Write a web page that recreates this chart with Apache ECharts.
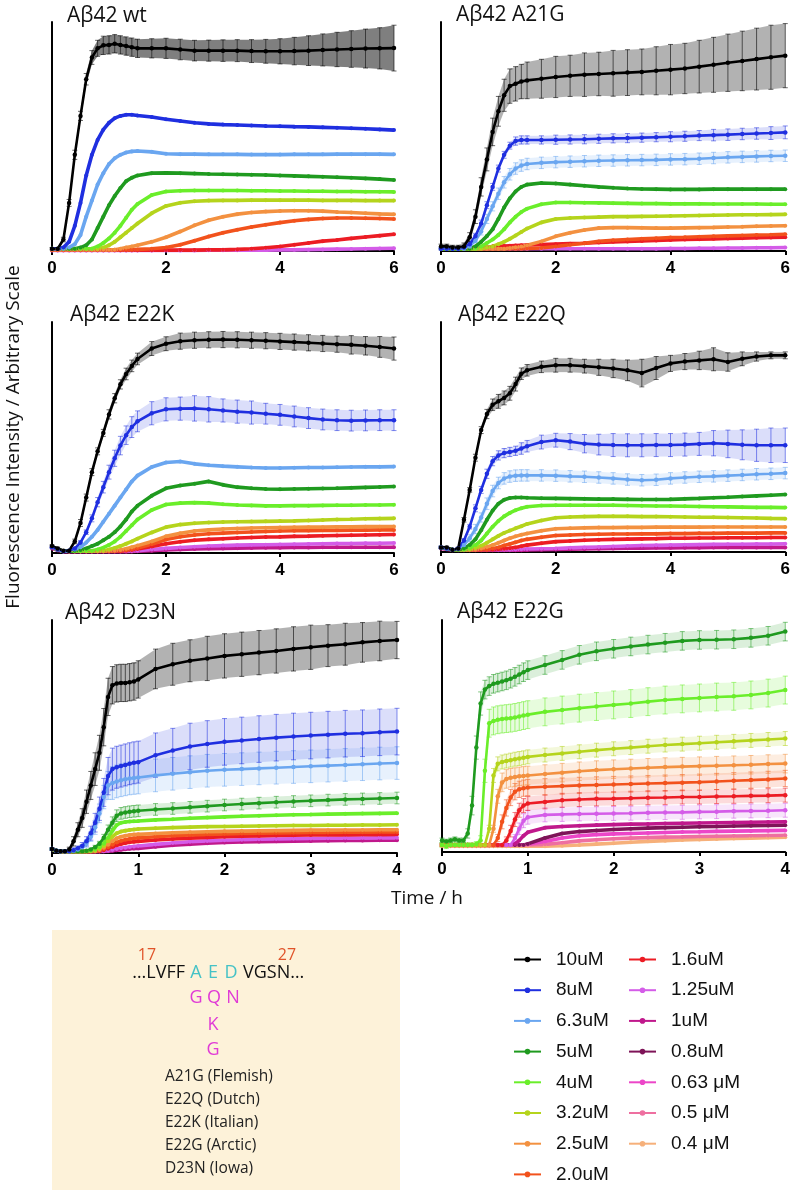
<!DOCTYPE html>
<html>
<head>
<meta charset="utf-8">
<script src="https://cdn.jsdelivr.net/npm/echarts@6/dist/echarts.min.js"></script>
<style>
  html, body { margin: 0; padding: 0; background: #fff; }
  #chart { width: 793px; height: 1190px; }
</style>
</head>
<body>
<div id="chart"></div>
<script>
// time points (hours)
const t6 = [0,0.1,0.2,0.3,0.4,0.5,0.6,0.7,0.8,0.9,1.0,1.1,1.2,1.3,1.4,1.5,1.75,2.0,2.25,2.5,2.75,3.0,3.25,3.5,3.75,4.0,4.25,4.5,4.75,5.0,5.25,5.5,5.75,6.0];
const t4 = [0,0.05,0.1,0.15,0.2,0.25,0.3,0.35,0.4,0.45,0.5,0.55,0.6,0.65,0.7,0.75,0.8,0.85,0.9,0.95,1.0,1.2,1.4,1.6,1.8,2.0,2.2,2.4,2.6,2.8,3.0,3.2,3.4,3.6,3.8,4.0];

const concLabels = ['10uM','8uM','6.3uM','5uM','4uM','3.2uM','2.5uM','2.0uM','1.6uM','1.25uM','1uM','0.8uM','0.63 μM','0.5 μM','0.4 μM'];
const concColors = ['#000000','#1f2fe0','#6aa6f0','#1f9a1f','#6aee2a','#b5d41c','#f39140','#f2521c','#ec1c24','#d45ce8','#c0188c','#7e1458','#ec46c8','#ee6fa0','#f6b07a'];

// Abeta42 wt
const wt_10 = [1,1,5,21,42,59,75,84.5,88.5,89.8,90,90.5,90,89.5,89,88.5,88.5,88.5,88,87.5,87.5,87.5,87.5,87.3,87.2,87.2,87.3,87.5,87.8,88,88.2,88.4,88.5,88.6];
const wt_10_err = [0.5,0.5,1,1.5,2,2,2.5,3,3.5,4,4,4,4,4,4,4,4.2,4.4,4.5,4.5,4.6,4.7,4.8,5,5.2,5.5,6,6.5,7,7.5,8,8.5,9,10];
const wt_8 = [1,1,1.5,4,11,21,33,42,48.5,53,56,58,59,59.5,59.5,59.2,58.5,57.5,56.8,56,55.5,55.2,55,54.8,54.6,54.5,54.3,54.2,54,53.8,53.6,53.4,53.1,52.8];
const wt_63 = [1,1,1,1.5,3,7,15,22,29,34,38,40.5,42,43,43.5,43.7,43.3,42.5,42.3,42.3,42.2,42.2,42.2,42.1,42.1,42.1,42.2,42.2,42.2,42.3,42.3,42.3,42.3,42.2];
const wt_5 = [1,1,1,1,1,1.5,2.5,5,10,15,20,24,27.5,30.5,32,33,34,34.1,34,33.8,33.6,33.5,33.4,33.3,33.2,33,32.8,32.6,32.4,32.2,32,31.7,31.4,31];
const wt_4 = [1,1,1,1,1,1,1,1,2,3.5,5.5,8,11,14.5,18,20.5,24.5,26,26.3,26.4,26.4,26.4,26.4,26.3,26.3,26.2,26.2,26.1,26.1,26,26,25.9,25.9,25.8];
const wt_32 = [1,1,1,1,1,1,1,1,1,1.5,2.5,4,6,8,10,12,16.5,19.7,21.1,21.7,22,22.1,22.1,22.2,22.2,22.2,22.2,22.2,22.1,22.1,22.1,22,22,22];
const wt_25 = [0.5,0.5,0.5,0.5,0.5,0.5,0.5,0.5,0.5,0.5,0.5,0.5,1,1.5,2,2.5,4,6,8.5,11.2,13.4,15,16.1,16.8,17.2,17.5,17.6,17.6,17.4,17,16.8,16.5,16.2,16];
const wt_20 = [0.5,0.5,0.5,0.5,0.5,0.5,0.5,0.5,0.5,0.5,0.5,0.5,0.5,0.5,0.6,0.7,1,1.5,2.7,4.5,6.3,8,9.3,10.5,11.5,12.4,13.2,13.8,14.2,14.4,14.4,14.3,14.2,14];
const wt_16 = [0.3,0.3,0.3,0.3,0.3,0.3,0.3,0.3,0.3,0.3,0.3,0.3,0.3,0.3,0.3,0.3,0.3,0.4,0.4,0.4,0.5,0.5,0.7,1,1.4,2,2.7,3.5,4.3,4.8,5.5,6.1,6.7,7.3];
const wt_125 = [0.2,0.2,0.2,0.2,0.2,0.2,0.2,0.2,0.2,0.2,0.2,0.2,0.2,0.2,0.2,0.2,0.2,0.2,0.2,0.2,0.3,0.3,0.3,0.4,0.4,0.5,0.5,0.6,0.7,0.8,0.9,1,1.1,1.2];

// Abeta42 A21G
const a_10 = [2,2,1.5,1.5,2,6,15,28,40,52,61,68,72,73,74,74.5,75.2,76,76.5,77,77.3,77.6,77.9,78.2,78.7,79.2,79.7,80.5,81.3,82.2,83,83.8,84.6,85.3];
const a_10_err = [1,1,1,1,1.5,2,3,4,5,6,6.5,7,7.5,7.5,7.5,8,8.5,9,9,9.5,9.5,10,10,10,10.5,11,11,11.5,12,12.5,13,13.5,14,14];
const a_8 = [1,1,1,1,1.5,3,6.5,12,20,28,36,42,46,48,48.5,48.5,48.5,48.6,48.7,48.8,49,49.2,49.3,49.5,49.7,49.9,50.1,50.4,50.6,50.8,51.1,51.3,51.5,51.8];
const a_8_err = [0.5,0.5,0.5,0.5,0.8,1,1.2,1.5,1.5,1.5,1.5,1.5,1.5,1.8,1.8,1.8,1.8,2,2,2,2,2,2,2,2,2.2,2.2,2.2,2.5,2.5,2.5,2.5,2.8,2.8];
const a_63 = [1,1,1,1,1,2,4.5,8.5,14,19.5,25,30,33.5,36,37.3,38,38.5,38.8,39,39.2,39.4,39.5,39.6,39.7,39.8,40,40.1,40.3,40.6,40.9,41.1,41.3,41.5,41.6];
const a_63_err = [0.5,0.5,0.5,0.5,0.5,0.8,1,1.5,2,2,2.5,2.5,2.5,2.5,2.5,2.5,2.5,2.5,2.5,2.5,2.5,2.5,2.5,2.5,2.5,2.5,2.5,2.5,2.5,2.5,2.5,2.5,2.5,2.5];
const a_5 = [1,1,1,1,1,1,2,4,6.5,9.5,14,19,23,26,28,29,29.7,29.5,29,28.5,28,27.6,27.3,27.1,27,26.9,26.9,26.9,27,27,27,27,27,27];
const a_4 = [1,1,1,1,1,1,1,2,3.5,5,7,9.5,12.5,15,17,18.5,20.4,21.2,21.2,21.1,21,20.9,20.8,20.7,20.7,20.6,20.6,20.6,20.5,20.5,20.5,20.5,20.4,20.4];
const a_32 = [1,1,1,1,1,1,1,1,1.5,2,3,4,5.3,6.8,8.3,9.8,12.5,14,14.4,14.6,14.8,15,15,15.1,15.2,15.3,15.4,15.5,15.6,15.7,15.8,15.8,15.9,16];
const a_25 = [1,1,1,1,1,1,1,1,1,1,1,1,1.3,1.6,2,2.5,4.2,6.4,8,9.2,10,10.2,10.2,10.1,10,10,10.1,10.2,10.3,10.5,10.6,10.8,10.9,11];
const a_20 = [1,1,1,1,1,1,1,1,1,1,1,1,1,1,1,1.1,1.3,2,2.7,3.4,4.2,4.7,5,5.3,5.6,5.9,6,6.2,6.4,6.6,6.8,7,7.1,7.3];
const a_16 = [1,1,1,1,1,1,1.5,1.5,1.5,2,2,2.2,2.3,2.4,2.5,2.6,2.8,3,3.2,3.4,3.7,4,4.2,4.4,4.6,4.8,5,5.1,5.3,5.5,5.6,5.8,5.9,6];
const a_125 = [1,1,1,1,1,1,1,1,1,1,1,1,1,1,1,1,1,1,1,1,1,1,1,1,1,1.1,1.1,1.2,1.2,1.3,1.3,1.4,1.4,1.5];

// Abeta42 E22K
const k_10 = [3,2,1,1,5,13,24,35,44,52,60,67,73,77.5,81,84,88.5,90.6,91.7,92.1,92.3,92.4,92.3,92.1,91.9,91.6,91.3,91,90.7,90.4,90.1,89.7,89.2,88.5];
const k_10_err = [0.5,0.5,0.5,0.5,1,1.5,1.5,1.5,1.5,1.5,2,2,2,2.5,2.5,2.5,3,3,3.5,3.5,3.5,3.5,3.5,3.5,3.5,3.5,3.5,3.5,3.5,3.5,4,4,4.5,5];
const k_8 = [2.5,1.5,0.8,1,2,4.5,9,15,22,28.5,35,41,46.5,51,54.5,57,60.5,62.2,62.5,62.6,62.2,61.7,61.2,60.8,60.3,59.8,59.1,58.4,57.8,57.5,57.3,57.4,57.5,57.5];
const k_8_err = [0.5,0.5,0.5,0.5,0.5,0.8,1,1.5,2,2.5,3,3.5,4,4,4.5,4.5,5,5,5,5.5,5.5,5,5,5,4.5,4.5,4.5,4.5,4.5,4.5,4.5,4.5,4.5,4.5];
const k_63 = [2.5,1.5,0.8,1,1.5,2.5,4.5,7,10,13.5,17,20.5,24,27.5,31,33.5,37.2,39.2,39.6,38.6,38,37.6,37.3,37,36.8,36.8,36.9,37,37,37.1,37.2,37.3,37.3,37.4];
const k_5 = [2.5,1.5,0.8,0.8,1,1.3,2,3,4,5.5,7,9,11.5,14.5,18,20.5,24.8,28,29.2,30,31,29.5,28.5,28,27.7,27.6,27.7,27.8,27.9,28,28.2,28.4,28.6,28.8];
const k_4 = [2.5,1.5,0.8,0.8,0.8,0.8,1,1,1.5,2.3,3.5,5,7,9.5,12,14.5,18.6,21,21.6,21.8,21.6,21.1,20.8,20.6,20.4,20.4,20.5,20.5,20.6,20.7,20.7,20.8,20.8,20.9];
const k_32 = [2.5,1.5,0.8,0.8,0.8,0.8,0.8,0.8,1,1,1.5,2.2,3,4,5,6.2,8.9,11.2,12.3,12.9,13.2,13.4,13.5,13.6,13.7,13.8,13.9,14.1,14.3,14.5,14.6,14.8,14.9,15];
const k_25 = [2.5,1.5,0.8,0.8,0.8,0.8,0.8,0.8,0.8,0.8,1,1,1.3,1.8,2.5,3.2,5,7.2,8.5,9.5,10,10.4,10.6,10.8,10.9,11,11.1,11.2,11.2,11.3,11.3,11.4,11.4,11.5];
const k_20 = [2.5,1.5,0.8,0.8,0.8,0.8,0.8,0.8,0.8,0.8,0.8,1,1,1.2,1.6,2.2,3.8,5.8,7,7.8,8.3,8.6,8.9,9.1,9.3,9.5,9.6,9.7,9.8,9.8,9.9,9.9,10,10];
const k_16 = [2.5,1.5,0.8,0.8,0.8,0.8,0.8,0.8,0.8,0.8,0.8,0.8,0.8,1,1.3,1.7,2.8,4,4.9,5.5,5.9,6.2,6.5,6.7,6.9,7,7.2,7.3,7.5,7.6,7.7,7.8,7.9,8];
const k_125 = [2.5,1.5,0.8,0.8,0.8,0.8,0.8,0.8,0.8,0.8,0.8,0.8,0.8,0.8,0.9,1,1.5,2,2.4,2.7,3,3.2,3.4,3.5,3.6,3.7,3.8,3.9,4,4.1,4.1,4.2,4.2,4.3];
const k_1 = [2,1.2,0.6,0.6,0.6,0.6,0.6,0.6,0.6,0.6,0.6,0.6,0.6,0.6,0.7,0.8,1,1.3,1.5,1.7,1.9,2,2.1,2.2,2.3,2.3,2.4,2.4,2.5,2.5,2.5,2.5,2.5,2.5];

// Abeta42 E22Q
const q_10 = [2,2,1,1.5,14,27,41,53,60,64,65.5,67,69,73,77.5,79,80.5,81.2,81.2,80.8,80.3,79.8,79,77.8,80,82,82.8,83.3,83.8,82.6,84,85,85.5,85.5];
const q_10_err = [0.5,0.5,0.5,0.5,1,1,1.5,1.5,2,2.5,3,3,3,3,2.5,2.5,2.5,3,3,3,3.5,4,4.5,6,5,3.5,3.5,4,5,4,3,2,1.5,1.5];
const q_8 = [2,1.5,1,1.5,5,11,19,27,34,39.5,42,43,43.5,44,45,46,47.8,48.6,48,47.1,46.7,46.5,46.4,46.4,46.5,46.5,46.7,47,47.3,47,46.6,46.4,46.4,46.4];
const q_8_err = [0.5,0.5,0.5,0.5,0.8,1,1.5,1.5,2,2,2,2,2,2,2.5,2.5,3,3,3.5,4,4.5,5,5,5,5,5,5,5,5.5,6,6.5,7,7.5,7.5];
const q_63 = [2,1.5,1,1.3,3,6,10,15,21,26.5,30,32,32.8,33.2,33.3,33.3,33.3,33.2,32.9,32.7,32.4,32,31.5,31.2,31.4,32,32.4,32.7,32.9,33.2,33.5,33.8,34,34.3];
const q_63_err = [0.5,0.5,0.5,0.5,1,1.5,2,2,2.5,2.5,2.5,2.5,2.5,2.5,2.5,2.5,2.5,2.5,2.5,2.5,2.5,2.5,2.5,2.5,2.5,2.5,2.5,2.5,2.5,2.5,2.5,2.5,2.5,2.5];
const q_5 = [2,1.5,1,1,1.5,3,5.5,9.5,14,18,21,22.7,23.5,23.7,23.7,23.6,23.4,23.3,23.2,23.1,23,23,22.9,22.8,22.8,22.9,23.1,23.3,23.6,23.8,24.1,24.4,24.7,25];
const q_4 = [2,1.5,1,1,1,1.7,3,5,8,11,13.5,15.5,17,18.2,19,19.7,20.2,20.3,20.3,20.3,20.3,20.3,20.2,20.1,20,20,19.9,19.8,19.7,19.6,19.5,19.4,19.4,19.3];
const q_32 = [2,1.5,1,1,1,1,1.7,2.7,4,5.5,7,8.3,9.3,10.3,11.2,12.2,13.7,14.9,15.2,15.4,15.5,15.5,15.5,15.4,15.4,15.3,15.2,15.1,15.1,15,14.9,14.8,14.6,14.5];
const q_25 = [2,1.5,1,1,1,1,1,1.5,2.2,3,4,5,6,6.8,7.5,8,9.2,10.1,10.3,10.5,10.6,10.6,10.7,10.7,10.8,10.8,10.8,10.8,10.9,10.9,10.9,10.9,10.9,10.9];
const q_20 = [2,1.5,1,1,1,1,1,1,1,1.5,2,2.8,3.5,4.2,5,5.5,6.4,7.2,7.4,7.6,7.7,7.8,7.8,7.9,7.9,8,8,8.1,8.1,8.2,8.2,8.2,8.3,8.3];
const q_16 = [2,1.5,1,1,1,1,1,1,1,1,1.2,1.4,1.6,2,2.5,3,3.8,4.5,4.8,5.1,5.3,5.5,5.6,5.7,5.8,6,6,6.1,6.1,6.2,6.2,6.2,6.3,6.3];
const q_125 = [2,1.5,1,1,1,1,1,1,1,1,1,1,1,1.1,1.2,1.3,1.4,1.5,1.8,2,2.2,2.4,2.6,2.8,2.9,3,3.1,3.2,3.3,3.4,3.4,3.5,3.5,3.6];
const q_1 = [1.5,1.2,0.8,0.8,0.8,0.8,0.8,0.8,0.8,0.8,0.8,0.8,0.8,0.8,0.8,0.9,1,1.1,1.2,1.3,1.4,1.5,1.6,1.7,1.8,1.8,1.9,1.9,2,2,2,2,2,2];

// Abeta42 D23N
const d_10 = [1.7,1,0.7,0.8,1.5,5,10,15,22,29,36,43,54,67,72,72.8,73,73,73.3,73.6,74.5,79,81,82.5,83.5,84.6,85.3,86,86.7,87.6,88.3,89,89.6,90.4,91,91.4];
const d_10_err = [0.5,0.5,0.5,0.5,1,2,3,4,5,6,7,7.5,8,8,8,8,8,8,8,8,8,8.5,9,9,9.5,9.5,9.5,9.5,9.5,9.5,9.5,9,9,8.5,8.5,8];
const d_8 = [1.7,1,0.7,0.7,0.8,1.2,2,3,5,8.5,13,19,26,33,36,36.8,37.3,37.8,38.3,38.7,39,42,44,45.7,46.8,47.7,48.3,48.9,49.5,50,50.4,50.8,51.2,51.4,51.8,52.1];
const d_8_err = [0.5,0.5,0.5,0.5,0.5,1,1,1.5,2,3,4,5,6,8,9,9,9,9,9,9,9,9.5,9.5,10,10,10,10,10,10,10,10,10,10,10,10,10];
const d_63 = [1.7,1,0.7,0.7,0.8,1,1.5,2.5,4,7,11,17,24,29,30,30.7,31.2,31.6,32,32.2,32.4,33.3,34,34.7,35.3,35.7,36,36.3,36.6,36.9,37.2,37.5,37.8,38.1,38.4,38.6];
const d_63_err = [0.5,0.5,0.5,0.5,0.5,0.5,1,1,1.5,2,3,4,5,6,7,7,7,7,7,7,7,7,7,7,7,7,7,7,7,7,7,7,7,7,7,7];
const d_5 = [1.7,1,0.7,0.7,0.7,0.7,0.8,0.8,1,1.5,2.5,4,6.5,10,13,16,17,17.4,17.7,17.9,18.1,18.7,19.1,19.6,20.1,20.6,21,21.4,21.8,22.1,22.4,22.7,23,23.2,23.4,23.6];
const d_5_err = [0.3,0.3,0.3,0.3,0.3,0.3,0.3,0.3,0.5,0.5,0.8,1,1.5,2,2.5,2.5,2.5,2.5,2.5,2.5,2.5,2.5,2.5,2.5,2.5,2.5,2.5,2.5,2.5,2.5,2.5,2.5,2.5,2.5,2.5,2.5];
const d_4 = [1.7,1,0.7,0.7,0.7,0.7,0.7,0.7,0.8,1,1.5,2.5,4,6.5,9.5,12,13,13.3,13.5,13.6,13.7,14.2,14.5,14.9,15.2,15.5,15.8,16,16.2,16.4,16.5,16.7,16.8,16.9,17,17.1];
const d_32 = [1.7,1,0.7,0.7,0.7,0.7,0.7,0.7,0.7,0.8,1,1.8,3,5,7,8.5,9.2,9.6,9.9,10.1,10.3,10.6,10.9,11.1,11.3,11.4,11.5,11.6,11.7,11.8,11.8,11.9,11.9,12,12,12.1];
const d_25 = [1.7,1,0.7,0.7,0.7,0.7,0.7,0.7,0.7,0.7,0.8,1.3,2.2,3.5,5,6.3,7,7.4,7.7,7.9,8,8.4,8.7,8.9,9.1,9.3,9.4,9.5,9.6,9.7,9.8,9.8,9.9,9.9,10,10];
const d_20 = [1.7,1,0.7,0.7,0.7,0.7,0.7,0.7,0.7,0.7,0.7,1,1.6,2.5,3.5,4.5,5.2,5.7,6,6.3,6.5,7,7.4,7.7,8,8.2,8.4,8.5,8.6,8.7,8.8,8.8,8.9,8.9,9,9];
const d_16 = [1.7,1,0.7,0.7,0.7,0.7,0.7,0.7,0.7,0.7,0.7,0.8,1.2,1.8,2.6,3.3,3.9,4.3,4.6,4.8,5,5.6,6,6.4,6.7,7,7.2,7.3,7.5,7.6,7.7,7.8,7.8,7.9,7.9,8];
const d_125 = [1.7,1,0.7,0.7,0.7,0.7,0.7,0.7,0.7,0.7,0.7,0.7,0.8,1,1.3,1.7,2,2.3,2.6,2.8,3,3.7,4.3,4.8,5.2,5.5,5.7,5.9,6,6.1,6.2,6.3,6.4,6.4,6.5,6.5];
const d_1 = [1.7,1,0.7,0.7,0.7,0.7,0.7,0.7,0.7,0.7,0.7,0.7,0.7,0.8,1,1.2,1.4,1.6,1.8,1.9,2,2.7,3.3,3.8,4.2,4.5,4.7,4.9,5,5.1,5.2,5.3,5.4,5.4,5.5,5.5];

// Abeta42 E22G
const g_5 = [5,4.5,5,5.5,5,5,8,20,45,64,70,71.5,72.5,73,73.5,74,74.7,75.5,76.5,77.5,78.4,80.6,82.8,85,86.5,87.6,88.6,89.4,90.2,91,91.4,91.5,91.7,92.3,93.2,95];
const g_5_err = [1,1,1,1,1,1,2,4,5,5,4,4,4,4,4,4,4,4,4,4,4,4,4,4,4,4,4,4,4,4,4,4,4,4,4,4];
const g_4 = [3,2.5,3,3,3,3,3,3,3.5,5,35,55.5,56.5,57,57.3,57.5,57.7,58,58.4,58.8,59.2,60.4,61.2,62,62.7,63.4,64,64.8,65.5,66,66.4,66.8,67.1,67.7,68.5,69.8];
const g_4_err = [1,1,1,1,1,1,1,1,1,2,5,6,6,6,6,6,6,6,6,6,6,6,6,6,6,6,6,6,6,6,6,6,6,6,6,6];
const g_32 = [3,3,3,3,3,3,3,3,3,3,3,10,33,38,38.8,39.2,39.6,40,40.3,40.6,41,41.8,42.5,43.2,43.9,44.5,45,45.6,46.1,46.5,46.9,47.3,47.7,48.1,48.5,48.9];
const g_32_err = [0.5,0.5,0.5,0.5,0.5,0.5,0.5,0.5,0.5,0.5,0.5,1.5,3,3,3,3,3,3,3,3,3,3,3,3,3,3,3,3,3,3,3,3,3,3,3,3];
const g_25 = [3,3,3,3,3,3,3,3,3,3,3,3,10,24,30,31.5,32,32.3,32.6,32.8,33,33.6,34.2,34.8,35.3,35.7,36,36.3,36.6,36.8,37,37.2,37.4,37.6,37.9,38.1];
const g_25_err = [0.5,0.5,0.5,0.5,0.5,0.5,0.5,0.5,0.5,0.5,0.5,0.5,1.5,3,4,4,4,4,4,4,4,4,4,4,4,4,4,4,4,4,4,4,4,4,4,4];
const g_20 = [3,3,3,3,3,3,3,3,3,3,3,3,3,6,13,19,23.5,26,27,27.5,27.8,28.1,28.4,28.7,28.9,29.1,29.3,29.5,29.7,29.9,30.1,30.4,30.7,31,31.3,31.7];
const g_20_err = [0.5,0.5,0.5,0.5,0.5,0.5,0.5,0.5,0.5,0.5,0.5,0.5,0.5,1.5,3,3.5,3.5,3.5,3.5,3.5,3.5,3.5,3.5,3.5,3.5,3.5,3.5,3.5,3.5,3.5,3.5,3.5,3.5,3.5,3.5,3.5];
const g_16 = [3,3,3,3,3,3,3,3,3,3,3,3,3,3,3,5,9,14,18,20,20.9,21.6,22.3,22.6,22.9,23,23.2,23.4,23.5,23.7,23.7,23.9,24,24.2,24.3,24.5];
const g_16_err = [0.5,0.5,0.5,0.5,0.5,0.5,0.5,0.5,0.5,0.5,0.5,0.5,0.5,0.5,0.5,1.5,2.5,3,3,3,3,3,3,3,3,3,3,3,3,3,3,3,3,3,3,3];
const g_125 = [3,3,3,3,3,3,3,3,3,3,3,3,3,3,3,3,3,6,10,13.5,15,16,16.2,16.4,16.5,16.6,16.7,16.9,17,17.1,17.3,17.4,17.6,17.7,17.8,18];
const g_125_err = [0.5,0.5,0.5,0.5,0.5,0.5,0.5,0.5,0.5,0.5,0.5,0.5,0.5,0.5,0.5,0.5,0.5,1.5,2.5,3,3,3,3,3,3,3,3,3,3,3,3,3,3,3,3,3];
const g_1 = [3,3,3,3,3,3,3,3,3,3,3,3,3,3,3,3,3,3.5,5,7,8.5,10.5,11,11.3,11.6,11.8,12,12.1,12.3,12.4,12.5,12.6,12.7,12.8,12.9,13];
const g_08 = [3,3,3,3,3,3,3,3,3,3,3,3,3,3,3,3,3,3,3,3,3.5,6,8,8.8,9.3,9.7,10,10.3,10.5,10.7,10.9,11,11.2,11.3,11.4,11.5];
const g_063 = [3,3,3,3,3,3,3,3,3,3,3,3,3,3,3,3,3,3,3,3,3.3,4.5,6,7,7.5,7.8,8,8.2,8.4,8.6,8.7,8.9,9,9.1,9.2,9.3];
const g_05 = [3,3,3,3,3,3,3,3,3,3,3,3,3,3,3,3,3,3,3,3,3,3.3,4,4.8,5.3,5.7,6,6.2,6.4,6.5,6.7,6.8,6.9,7,7.1,7.2];
const g_04 = [2.5,2.5,2.5,2.5,2.5,2.5,2.5,2.5,2.5,2.5,2.5,2.5,2.5,2.5,2.5,2.5,2.5,2.5,2.5,2.5,2.5,2.5,2.7,3,3.4,3.8,4.2,4.6,4.9,5.2,5.4,5.6,5.8,6,6.2,6.4];

// panels: [concentration index, values, error]
const panels = [
  { title: 'Aβ42 wt', t: t6, max: 6, step: 2, lines: [[0, wt_10, wt_10_err], [1, wt_8], [2, wt_63], [3, wt_5], [4, wt_4], [5, wt_32], [6, wt_25], [7, wt_20], [8, wt_16], [9, wt_125]] },
  { title: 'Aβ42 A21G', t: t6, max: 6, step: 2, lines: [[0, a_10, a_10_err], [1, a_8, a_8_err], [2, a_63, a_63_err], [3, a_5], [4, a_4], [5, a_32], [6, a_25], [7, a_20], [8, a_16], [9, a_125]] },
  { title: 'Aβ42 E22K', t: t6, max: 6, step: 2, lines: [[0, k_10, k_10_err], [1, k_8, k_8_err], [2, k_63], [3, k_5], [4, k_4], [5, k_32], [6, k_25], [7, k_20], [8, k_16], [9, k_125], [10, k_1]] },
  { title: 'Aβ42 E22Q', t: t6, max: 6, step: 2, lines: [[0, q_10, q_10_err], [1, q_8, q_8_err], [2, q_63, q_63_err], [3, q_5], [4, q_4], [5, q_32], [6, q_25], [7, q_20], [8, q_16], [9, q_125], [10, q_1]] },
  { title: 'Aβ42 D23N', t: t4, max: 4, step: 1, lines: [[0, d_10, d_10_err], [1, d_8, d_8_err], [2, d_63, d_63_err], [3, d_5, d_5_err], [4, d_4], [5, d_32], [6, d_25], [7, d_20], [8, d_16], [9, d_125], [10, d_1]] },
  { title: 'Aβ42 E22G', t: t4, max: 4, step: 1, lines: [[3, g_5, g_5_err], [4, g_4, g_4_err], [5, g_32, g_32_err], [6, g_25, g_25_err], [7, g_20, g_20_err], [8, g_16, g_16_err], [9, g_125, g_125_err], [10, g_1], [11, g_08], [12, g_063], [13, g_05], [14, g_04]] }
];

const grids = [
  { left: 52, top: 22, width: 342, height: 229 },
  { left: 441, top: 22, width: 345, height: 229 },
  { left: 52, top: 322, width: 342, height: 231 },
  { left: 441, top: 322, width: 345, height: 230 },
  { left: 52, top: 620, width: 345, height: 233 },
  { left: 442, top: 620, width: 344, height: 232 }
];
const titlePos = [[67, 16], [456, 15], [70, 315], [458, 315], [65, 613], [457, 612]];

const chart = echarts.init(document.getElementById('chart'), null, { renderer: 'canvas' });

// error bars + shaded band between neighbouring points
function errorBars(gi, t, vals, err, color) {
  const isBlack = color === '#000000';
  const band = echarts.color.modifyAlpha(color, isBlack ? (gi === 0 ? 0.5 : 0.3) : 0.16);
  const bar = echarts.color.modifyAlpha(color, isBlack ? 0.6 : 0.55);
  const data = t.map((x, i) => {
    const j = i ? i - 1 : 0;
    return [x, vals[i] - err[i], vals[i] + err[i], t[j], vals[j] - err[j], vals[j] + err[j]];
  });
  return {
    type: 'custom', xAxisIndex: gi, yAxisIndex: gi, silent: true, z: 2,
    data,
    renderItem: (params, api) => {
      const lo = api.coord([api.value(0), api.value(1)]);
      const hi = api.coord([api.value(0), api.value(2)]);
      const plo = api.coord([api.value(3), api.value(4)]);
      const phi = api.coord([api.value(3), api.value(5)]);
      const cap = 2.5;
      return {
        type: 'group',
        children: [
          { type: 'polygon', shape: { points: [plo, phi, hi, lo] }, style: { fill: band } },
          { type: 'line', shape: { x1: lo[0], y1: lo[1], x2: hi[0], y2: hi[1] }, style: { stroke: bar, lineWidth: 1 } },
          { type: 'line', shape: { x1: hi[0] - cap, y1: hi[1], x2: hi[0] + cap, y2: hi[1] }, style: { stroke: bar, lineWidth: 1 } },
          { type: 'line', shape: { x1: lo[0] - cap, y1: lo[1], x2: lo[0] + cap, y2: lo[1] }, style: { stroke: bar, lineWidth: 1 } }
        ]
      };
    }
  };
}

const series = [];
panels.forEach((p, gi) => {
  p.lines.slice().reverse().forEach(([ci, vals, err]) => {
    const color = concColors[ci];
    if (err) series.push(errorBars(gi, p.t, vals, err, color));
    series.push({
      type: 'line',
      name: concLabels[ci],
      xAxisIndex: gi,
      yAxisIndex: gi,
      data: p.t.map((x, i) => [x, vals[i]]),
      symbol: 'circle',
      symbolSize: err ? 4.5 : 4,
      showAllSymbol: true,
      lineStyle: { color, width: err ? 2.6 : 3.6 },
      itemStyle: { color },
      emphasis: { disabled: true },
      z: 3
    });
  });
});

const font = 'Open Sans';
function label(x, y, text, size, fill, align, extra) {
  return Object.assign({
    type: 'text', x, y, silent: true,
    style: { text, font: size + 'px "' + font + '"', fill, textAlign: align || 'left', textVerticalAlign: 'middle' }
  }, extra || {});
}

const graphics = [
  { type: 'rect', shape: { x: 52, y: 930, width: 348, height: 260 }, style: { fill: '#fdf2d9' }, silent: true, z: -10 }
];
panels.forEach((p, i) => graphics.push(label(titlePos[i][0], titlePos[i][1], p.title, 21, '#111')));
graphics.push(label(14, 437, 'Fluorescence Intensity / Arbitrary Scale', 19, '#111', 'center', { rotation: Math.PI / 2 }));
graphics.push(label(427, 899, 'Time / h', 19, '#111', 'center'));
// sequence annotation
graphics.push(label(147, 955, '17', 16, '#e0542a', 'center'));
graphics.push(label(287, 955, '27', 16, '#e0542a', 'center'));
graphics.push(label(185, 973, '…LVFF', 18, '#111', 'right'));
graphics.push(label(196, 973, 'A', 18, '#45c2c6', 'center'));
graphics.push(label(213, 973, 'E', 18, '#45c2c6', 'center'));
graphics.push(label(231, 973, 'D', 18, '#45c2c6', 'center'));
graphics.push(label(243, 973, 'VGSN…', 18, '#111', 'left'));
graphics.push(label(196, 998, 'G', 18, '#e03ad6', 'center'));
graphics.push(label(214, 998, 'Q', 18, '#e03ad6', 'center'));
graphics.push(label(233, 998, 'N', 18, '#e03ad6', 'center'));
graphics.push(label(213, 1025, 'K', 18, '#e03ad6', 'center'));
graphics.push(label(213, 1050, 'G', 18, '#e03ad6', 'center'));
['A21G (Flemish)', 'E22Q (Dutch)', 'E22K (Italian)', 'E22G (Arctic)', 'D23N (Iowa)'].forEach((s, i) => {
  graphics.push(label(165, 1077 + i * 22.8, s, 15.5, '#222', 'left'));
});

const legendText = { fontSize: 19, fontFamily: 'Liberation Sans', color: '#111', padding: [0, 0, 0, 10] };

const option = {
  animation: false,
  backgroundColor: '#fff',
  grid: grids.map(g => Object.assign({ containLabel: false }, g)),
  xAxis: panels.map((p, i) => ({
    gridIndex: i, type: 'value', min: 0, max: p.max, interval: p.step,
    axisLine: { show: true, onZero: false, lineStyle: { color: '#000', width: 2 } },
    axisTick: { show: true, length: 4, lineStyle: { color: '#000', width: 2 } },
    axisLabel: { color: '#000', fontSize: 17, fontWeight: 'bold', fontFamily: 'Liberation Sans', margin: 9 },
    splitLine: { show: false }
  })),
  yAxis: panels.map((p, i) => ({
    gridIndex: i, type: 'value', min: 0, max: 100,
    axisLine: { show: true, lineStyle: { color: '#000', width: 2 } },
    axisTick: { show: false }, axisLabel: { show: false }, splitLine: { show: false }
  })),
  legend: [
    { orient: 'vertical', left: 513, top: 950, padding: 0, itemWidth: 27, itemHeight: 7, itemGap: 11.7,
      selectedMode: false, data: concLabels.slice(0, 8), textStyle: legendText },
    { orient: 'vertical', left: 628, top: 950, padding: 0, itemWidth: 27, itemHeight: 7, itemGap: 11.7,
      selectedMode: false, data: concLabels.slice(8), textStyle: legendText }
  ],
  graphic: graphics,
  series
};

chart.setOption(option);
</script>
</body>
</html>
